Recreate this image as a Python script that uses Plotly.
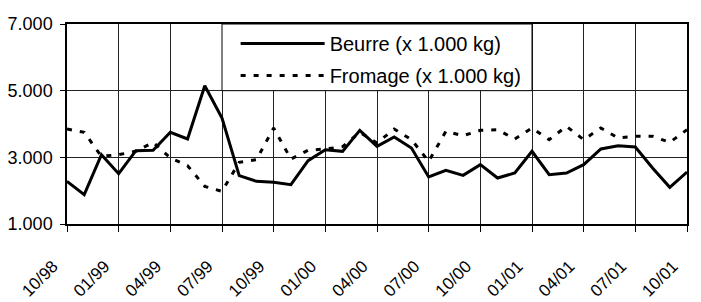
import plotly.graph_objects as go

months = ["10/98", "11/98", "12/98", "01/99", "02/99", "03/99", "04/99", "05/99", "06/99",
          "07/99", "08/99", "09/99", "10/99", "11/99", "12/99", "01/00", "02/00", "03/00",
          "04/00", "05/00", "06/00", "07/00", "08/00", "09/00", "10/00", "11/00", "12/00",
          "01/01", "02/01", "03/01", "04/01", "05/01", "06/01", "07/01", "08/01", "09/01",
          "10/01"]

beurre = [2280, 1880, 3080, 2510, 3200, 3210, 3750, 3550, 5150, 4180, 2450, 2280, 2250,
          2180, 2900, 3230, 3180, 3810, 3330, 3610, 3280, 2410, 2610, 2460, 2780, 2380,
          2530, 3180, 2480, 2530, 2780, 3250, 3350, 3310, 2680, 2100, 2560]

fromage = [3850, 3750, 3030, 3080, 3180, 3450, 2980, 2750, 2130, 1980, 2850, 2930, 3880,
           2950, 3210, 3250, 3320, 3750, 3430, 3850, 3530, 2880, 3780, 3650, 3810, 3830,
           3550, 3880, 3530, 3930, 3530, 3880, 3580, 3630, 3630, 3450, 3830]

tick_labels = months[::3]
y_ticks = [1000, 3000, 5000, 7000]
y_tick_labels = ["1.000", "3.000", "5.000", "7.000"]

fig = go.Figure()
fig.add_trace(go.Scatter(x=months, y=beurre, mode="lines", name="Beurre (x 1.000 kg)",
                         legendgroup="a",
                         line=dict(color="black", width=3)))
fig.add_trace(go.Scatter(x=months, y=fromage, mode="lines", name="Fromage (x 1.000 kg)",
                         legendgroup="b",
                         line=dict(color="black", width=3, dash="5px,8px")))

font = "Liberation Sans, Arial, Helvetica, sans-serif"

# white legend panel spanning from the 07/99 to the 01/01 gridline, 5.000 to 7.000
fig.add_shape(type="rect", xref="x", yref="y", x0=9, x1=27, y0=5000, y1=7000,
              fillcolor="white", line=dict(color="black", width=1), layer="above")

# the page body has an 8px margin, so the figure is sized to the visible window
fig.update_layout(
    width=693, height=294,
    margin=dict(l=59, r=14, t=16, b=78),
    paper_bgcolor="white", plot_bgcolor="white",
    font=dict(family=font, size=18, color="black"),
    showlegend=True,
    legend=dict(x=0.272, y=1.0, xanchor="left", yanchor="top",
                bgcolor="rgba(0,0,0,0)", borderwidth=0,
                font=dict(size=20), itemwidth=84,
                traceorder="grouped", tracegroupgap=3),
    xaxis=dict(type="category", categoryorder="array", categoryarray=months,
               range=[0, 36], automargin=False,
               tickmode="array", tickvals=tick_labels, ticktext=tick_labels,
               tickangle=-45, tickfont=dict(size=17),
               ticklabelstandoff=18, ticklabelshift=-14,
               showgrid=True, gridcolor="#222", gridwidth=1,
               showline=True, linecolor="black", linewidth=1.5, mirror=True,
               ticks="outside", ticklen=6, tickcolor="black", zeroline=False),
    yaxis=dict(range=[1000, 7000], automargin=False,
               tickmode="array", tickvals=y_ticks,
               ticktext=y_tick_labels, tickfont=dict(size=18), ticklabelstandoff=4,
               showgrid=True, gridcolor="#222", gridwidth=1,
               showline=True, linecolor="black", linewidth=1.5, mirror=True,
               ticks="outside", ticklen=5, tickcolor="black", zeroline=False),
)

fig.write_html("out.html")
